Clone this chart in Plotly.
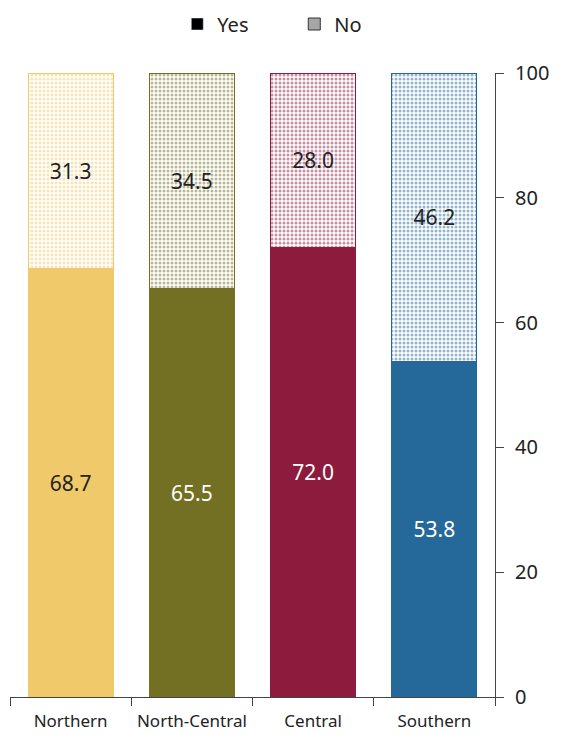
import plotly.graph_objects as go

categories = ["Northern", "North-Central", "Central", "Southern"]
yes_values = [68.7, 65.5, 72.0, 53.8]
no_values = [31.3, 34.5, 28.0, 46.2]
colors = ["#F0C96A", "#737024", "#8C1B3D", "#24699A"]
yes_text_colors = ["#222222", "white", "white", "white"]
tick_vals = [0, 20, 40, 60, 80, 100]

FONT = "Noto Sans"

fig = go.Figure()
fig.add_trace(go.Bar(
    x=categories, y=yes_values, name="Yes", showlegend=False,
    marker=dict(color=colors, line=dict(color=colors, width=1)),
    text=[f"{v:.1f}" for v in yes_values], textposition="inside",
    insidetextanchor="middle", textangle=0,
    textfont=dict(color=yes_text_colors, size=21, family=FONT),
    width=0.7,
))
fig.add_trace(go.Bar(
    x=categories, y=no_values, name="No", showlegend=False,
    marker=dict(color="white", line=dict(color=colors, width=1),
                pattern=dict(shape=".", fgcolor=colors, bgcolor="white",
                             size=4, solidity=0.45, fillmode="overlay")),
    text=[f"{v:.1f}" for v in no_values], textposition="inside",
    insidetextanchor="middle", textangle=0,
    textfont=dict(color="#222222", size=21, family=FONT),
    width=0.7,
))
# legend-only entries
fig.add_trace(go.Bar(x=[categories[0]], y=[None], name="Yes",
                     marker=dict(color="black")))
fig.add_trace(go.Bar(x=[categories[0]], y=[None], name="No",
                     marker=dict(color="white", line=dict(color="#333", width=1),
                                 pattern=dict(shape=".", fgcolor="black", bgcolor="white",
                                              size=2.5, solidity=0.7))))

fig.update_layout(
    barmode="stack",
    width=561, height=735,
    margin=dict(l=10, r=66, t=73, b=38),
    plot_bgcolor="white", paper_bgcolor="white",
    font=dict(family=FONT, color="#222222"),
    legend=dict(orientation="h", xref="container", yref="container",
                x=0.316, xanchor="left", y=(735 - 24) / 735, yanchor="middle",
                font=dict(size=20, family=FONT),
                itemwidth=30, entrywidth=72, entrywidthmode="pixels",
                traceorder="normal"),
    showlegend=True,
)
fig.update_xaxes(showline=True, linecolor="#444", linewidth=1,
                 ticks="outside", tickson="boundaries", ticklen=8, tickcolor="#444",
                 tickangle=0, automargin=False, ticklabelstandoff=9,
                 tickfont=dict(size=17, family=FONT, color="#222222"),
                 showgrid=False)
fig.update_yaxes(side="right", range=[0, 100], tickvals=tick_vals,
                 showline=True, linecolor="#444", linewidth=1,
                 ticks="outside", ticklen=8, tickcolor="#444", automargin=False,
                 ticklabelstandoff=7,
                 tickfont=dict(size=20, family=FONT, color="#222222"),
                 showgrid=False, zeroline=False)

fig.write_html("out.html", config={"displayModeBar": False},
               post_script="document.body.style.margin='0px';")
